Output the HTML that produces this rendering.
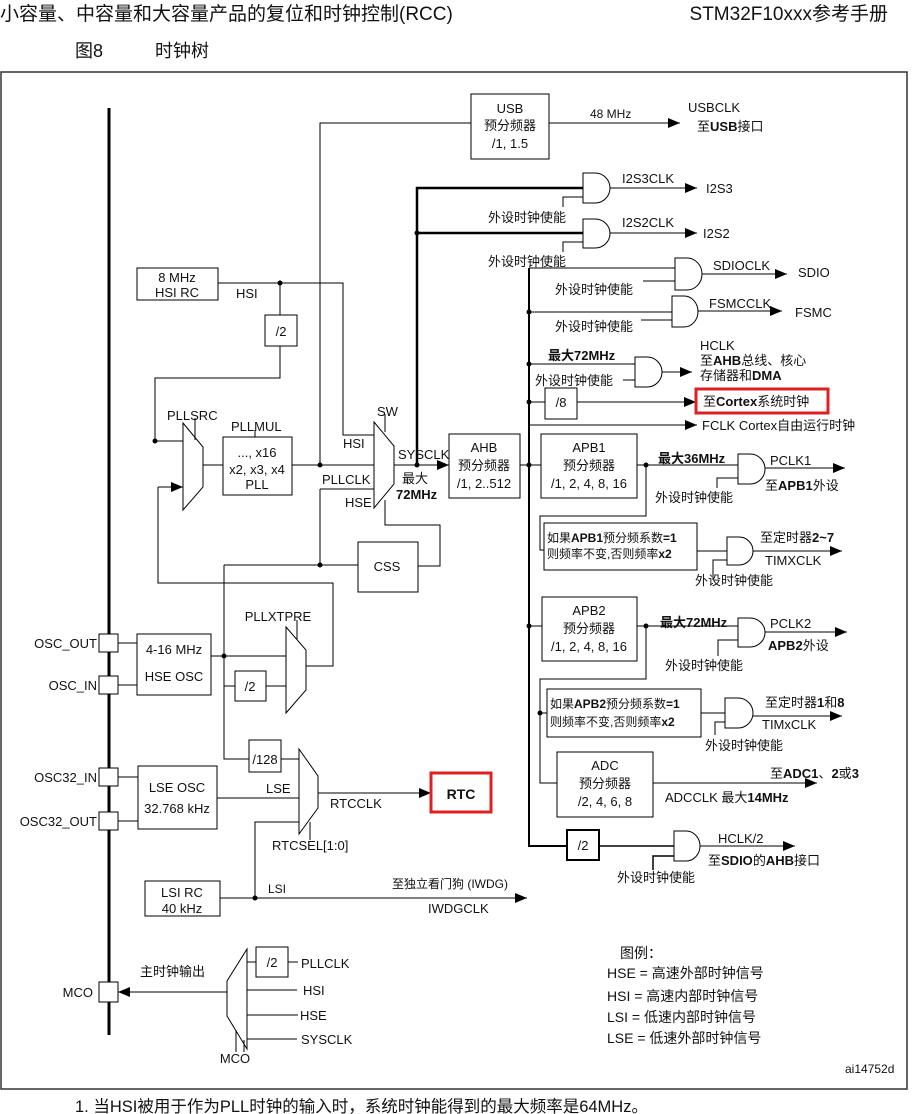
<!DOCTYPE html>
<html><head><meta charset="utf-8">
<style>
html,body{margin:0;padding:0;background:#fff;width:915px;height:1114px;overflow:hidden}
svg{display:block}
text{font-family:"Liberation Sans","Noto Sans CJK SC",sans-serif;font-size:13px;fill:#111}
.c{text-anchor:middle}.e{text-anchor:end}.b{font-weight:bold}
.s{font-size:12px}
.lg{font-size:14px}
</style></head><body>
<svg width="915" height="1114" viewBox="0 0 915 1114" xmlns="http://www.w3.org/2000/svg">
<defs>
<marker id="a" markerUnits="userSpaceOnUse" markerWidth="12" markerHeight="10" refX="12" refY="5" orient="auto"><path d="M0,0 L12,5 L0,10 Z" fill="#000"/></marker>
</defs>
<!-- header -->
<text x="0" y="20" style="font-size:19px">小容量、中容量和大容量产品的复位和时钟控制(RCC)</text>
<text x="888" y="20" class="e" style="font-size:19px">STM32F10xxx参考手册</text>
<text x="75" y="57" style="font-size:18px">图8</text>
<text x="155" y="57" style="font-size:18px">时钟树</text>
<rect x="1" y="72" width="906" height="1017" fill="none" stroke="#333" stroke-width="1.5"/>
<text x="75" y="1112" style="font-size:16.5px">1.  当HSI被用于作为PLL时钟的输入时，系统时钟能得到的最大频率是64MHz。</text>

<g stroke="#000" stroke-width="1" fill="none">
<line x1="109" y1="108" x2="109" y2="1035" stroke-width="3"/>
<path d="M118,643H137 M118,685H137 M118,777H138 M118,821H138"/>
<rect x="137" y="634" width="74" height="61"/>
<path d="M211,656H286 M224,565V759H249 M224,686H235 M266,686H286"/>
<rect x="235" y="671" width="31" height="30"/>
<polygon points="286,627 306,650 306,690 286,713"/>
<path d="M297,620V639"/>
<path d="M306,666H333V583H158V487"/>
<line x1="158" y1="487" x2="183" y2="487" marker-end="url(#a)"/>
<rect x="138" y="766" width="79" height="63"/>
<path d="M217,798H299"/>
<rect x="249" y="740" width="32" height="32"/>
<path d="M281,759H299"/>
<polygon points="299,749 318,776 318,808 299,834"/>
<path d="M310,822V840"/>
<line x1="318" y1="793" x2="431" y2="793" marker-end="url(#a)"/>
<rect x="145" y="881" width="75" height="35"/>
<line x1="220" y1="898" x2="527" y2="898" marker-end="url(#a)"/>
<path d="M255,898V822H299"/>
<polygon points="247,949 227,981 227,1016 247,1049"/>
<line x1="227" y1="992" x2="118" y2="992" marker-end="url(#a)"/>
<rect x="256" y="947" width="32" height="30"/>
<path d="M247,962H256 M288,962H298 M247,990H297 M247,1015H298 M247,1039H297 M236,1030V1052 M244,1040V1052"/>
<rect x="137" y="268" width="81" height="32"/>
<path d="M218,283H343V435H374 M280,283V315 M280,346V378H155V441H183"/>
<rect x="265" y="315" width="32" height="31"/>
<polygon points="183,423 203,447 203,487 183,510"/>
<path d="M195,418V440 M203,465H223"/>
<rect x="223" y="437" width="69" height="58"/>
<path d="M255,430V437"/>
<path d="M292,465H374 M320,465V123H471"/>
<polygon points="374,422 394,446 394,484 374,508"/>
<path d="M385,414V432"/>
<path d="M320,489H374 M320,489V565 M224,565H358"/>
<rect x="358" y="542" width="60" height="50"/>
<path d="M418,566H440V525H385V500"/>
<line x1="394" y1="465" x2="449" y2="465" marker-end="url(#a)"/>
<path d="M417,465V188H583 M417,233H583" stroke-width="2.5"/>
<rect x="471" y="94" width="78" height="65"/>
<line x1="549" y1="123" x2="680" y2="123" marker-end="url(#a)"/>
<rect x="449" y="434" width="71" height="64"/>
<path d="M520,465H541"/>
<path d="M529,268V846H567" stroke-width="2"/>
<path d="M583,173H595A15 15 0 0 1 595,203H583Z M583,219H595A15 14.5 0 0 1 595,248H583Z"/>
<path d="M563,207V197H583 M563,252V242H583"/>
<line x1="610" y1="188" x2="697" y2="188" marker-end="url(#a)"/>
<line x1="610" y1="233" x2="697" y2="233" marker-end="url(#a)"/>
<path d="M529,268H675 M643,281H675"/>
<path d="M675,258H687A15 16 0 0 1 687,290H675Z"/>
<line x1="702" y1="274" x2="787" y2="274" marker-end="url(#a)"/>
<path d="M529,312H672 M641,320H672"/>
<path d="M672,296H684A14 15.5 0 0 1 684,327H672Z"/>
<line x1="698" y1="311" x2="782" y2="311" marker-end="url(#a)"/>
<path d="M529,364H635 M623,380H635"/>
<path d="M635,357H647A15 15 0 0 1 647,387H635Z"/>
<line x1="662" y1="372" x2="692" y2="372" marker-end="url(#a)"/>
<path d="M529,402H545"/>
<rect x="545" y="388" width="32" height="31"/>
<line x1="577" y1="402" x2="696" y2="402" marker-end="url(#a)"/>
<line x1="529" y1="425" x2="697" y2="425" marker-end="url(#a)"/>
<rect x="541" y="434" width="96" height="64"/>
<path d="M637,465H738 M646,465V516H540V550H544 M717,488V478H738"/>
<path d="M738,454H750A15 15 0 0 1 750,484H738Z"/>
<line x1="765" y1="468" x2="845" y2="468" marker-end="url(#a)"/>
<rect x="544" y="523" width="153" height="47"/>
<path d="M697,551H727 M713,580V560H727"/>
<path d="M727,537H739A14 14 0 0 1 739,565H727Z"/>
<line x1="753" y1="551" x2="842" y2="551" marker-end="url(#a)"/>
<rect x="542" y="597" width="95" height="64"/>
<path d="M529,626H542 M637,626H738 M646,626V679H540V783H557 M540,713H547 M718,656V640H738"/>
<path d="M738,618H750A15 14.5 0 0 1 750,647H738Z"/>
<line x1="765" y1="632" x2="847" y2="632" marker-end="url(#a)"/>
<rect x="547" y="689" width="154" height="48"/>
<path d="M701,713H725 M715,735V722H725"/>
<path d="M725,698H738A15 15 0 0 1 738,728H725Z"/>
<line x1="753" y1="716" x2="842" y2="716" marker-end="url(#a)"/>
<rect x="557" y="752" width="96" height="65"/>
<line x1="653" y1="783" x2="817" y2="783" marker-end="url(#a)"/>
<rect x="567" y="830" width="32" height="30" stroke-width="2"/>
<path d="M599,846H674 M653,870V856H674" stroke-width="1.5"/>
<path d="M674,831H686A14 15 0 0 1 686,861H674Z"/>
<line x1="700" y1="846" x2="795" y2="846" marker-end="url(#a)"/>
</g>
<g stroke="#000" fill="#fff">
<rect x="99" y="634" width="19" height="18"/><rect x="99" y="676" width="19" height="18"/>
<rect x="99" y="768" width="19" height="18"/><rect x="99" y="812" width="19" height="18"/>
<rect x="99" y="982" width="19" height="20"/>
</g>
<rect x="431" y="773" width="60" height="39" fill="none" stroke="#e02020" stroke-width="3"/>
<rect x="696" y="389" width="132" height="24" fill="none" stroke="#e02020" stroke-width="3"/>
<g fill="#000">
<circle cx="280" cy="283" r="2.5"/><circle cx="155" cy="441" r="2.5"/><circle cx="320" cy="465" r="2.5"/>
<circle cx="320" cy="565" r="2.5"/><circle cx="224" cy="656" r="2.5"/><circle cx="255" cy="898" r="2.5"/>
<circle cx="417" cy="465" r="2.5"/><circle cx="417" cy="233" r="2.5"/><circle cx="529" cy="312" r="2.5"/>
<circle cx="529" cy="364" r="2.5"/><circle cx="529" cy="402" r="2.5"/><circle cx="529" cy="465" r="2.5"/>
<circle cx="646" cy="465" r="2.5"/><circle cx="529" cy="626" r="2.5"/><circle cx="646" cy="626" r="2.5"/>
<circle cx="540" cy="713" r="2.5"/>
</g>
<text x="97" y="648" class="e">OSC_OUT</text>
<text x="97" y="690" class="e">OSC_IN</text>
<text x="97" y="782" class="e">OSC32_IN</text>
<text x="97" y="826" class="e">OSC32_OUT</text>
<text x="93" y="997" class="e">MCO</text>
<text x="174" y="654" class="c">4-16 MHz</text>
<text x="174" y="681" class="c">HSE OSC</text>
<text x="250" y="691" class="c">/2</text>
<text x="278" y="621" class="c">PLLXTPRE</text>
<text x="177" y="792" class="c">LSE OSC</text>
<text x="177" y="813" class="c">32.768 kHz</text>
<text x="265" y="764" class="c">/128</text>
<text x="266" y="793">LSE</text>
<text x="330" y="808">RTCCLK</text>
<text x="272" y="850">RTCSEL[1:0]</text>
<text x="461" y="799" class="c b" style="font-size:14px">RTC</text>
<text x="182" y="897" class="c">LSI RC</text>
<text x="182" y="913" class="c">40 kHz</text>
<text x="268" y="893" class="s">LSI</text>
<text x="392" y="888" class="s">至独立看门狗  (IWDG)</text>
<text x="428" y="913">IWDGCLK</text>
<text x="140" y="976">主时钟输出</text>
<text x="272" y="967" class="c">/2</text>
<text x="301" y="968">PLLCLK</text>
<text x="303" y="995">HSI</text>
<text x="300" y="1020">HSE</text>
<text x="301" y="1044">SYSCLK</text>
<text x="235" y="1063" class="c">MCO</text>
<text x="177" y="282" class="c">8 MHz</text>
<text x="177" y="297" class="c">HSI RC</text>
<text x="236" y="298">HSI</text>
<text x="281" y="336" class="c">/2</text>
<text x="167" y="420">PLLSRC</text>
<text x="231" y="431">PLLMUL</text>
<text x="257" y="457" class="c">..., x16</text>
<text x="257" y="474" class="c">x2, x3, x4</text>
<text x="257" y="489" class="c">PLL</text>
<text x="377" y="416">SW</text>
<text x="343" y="448">HSI</text>
<text x="322" y="484">PLLCLK</text>
<text x="345" y="507">HSE</text>
<text x="387" y="571" class="c">CSS</text>
<text x="398" y="459">SYSCLK</text>
<text x="402" y="483">最大</text>
<text x="396" y="499" class="b">72MHz</text>
<text x="510" y="113" class="c">USB</text>
<text x="510" y="130" class="c">预分频器</text>
<text x="510" y="148" class="c">/1, 1.5</text>
<text x="590" y="118" class="s">48 MHz</text>
<text x="688" y="112">USBCLK</text>
<text x="697" y="131">至<tspan class="b">USB</tspan>接口</text>
<text x="622" y="183">I2S3CLK</text>
<text x="706" y="193">I2S3</text>
<text x="488" y="222">外设时钟使能</text>
<text x="622" y="227">I2S2CLK</text>
<text x="703" y="238">I2S2</text>
<text x="488" y="266">外设时钟使能</text>
<text x="713" y="270">SDIOCLK</text>
<text x="798" y="277">SDIO</text>
<text x="555" y="294">外设时钟使能</text>
<text x="709" y="308">FSMCCLK</text>
<text x="795" y="317">FSMC</text>
<text x="555" y="331">外设时钟使能</text>
<text x="548" y="360" class="b">最大72MHz</text>
<text x="535" y="385">外设时钟使能</text>
<text x="700" y="350">HCLK</text>
<text x="700" y="365">至<tspan class="b">AHB</tspan>总线、核心</text>
<text x="700" y="380">存储器和<tspan class="b">DMA</tspan></text>
<text x="561" y="407" class="c">/8</text>
<text x="703" y="406">至<tspan class="b">Cortex</tspan>系统时钟</text>
<text x="702" y="430">FCLK Cortex自由运行时钟</text>
<text x="484" y="452" class="c">AHB</text>
<text x="484" y="470" class="c">预分频器</text>
<text x="484" y="488" class="c">/1, 2..512</text>
<text x="589" y="452" class="c">APB1</text>
<text x="589" y="470" class="c">预分频器</text>
<text x="589" y="488" class="c">/1, 2, 4, 8, 16</text>
<text x="658" y="463" class="b">最大36MHz</text>
<text x="770" y="465">PCLK1</text>
<text x="765" y="490">至<tspan class="b">APB1</tspan>外设</text>
<text x="655" y="502">外设时钟使能</text>
<text x="547" y="542" class="s">如果<tspan class="b">APB1</tspan>预分频系数<tspan class="b">=1</tspan></text>
<text x="547" y="558" class="s">则频率不变,否则频率<tspan class="b">x2</tspan></text>
<text x="760" y="542">至定时器<tspan class="b">2~7</tspan></text>
<text x="765" y="565">TIMXCLK</text>
<text x="695" y="585">外设时钟使能</text>
<text x="589" y="615" class="c">APB2</text>
<text x="589" y="633" class="c">预分频器</text>
<text x="589" y="651" class="c">/1, 2, 4, 8, 16</text>
<text x="660" y="627" class="b">最大72MHz</text>
<text x="770" y="628">PCLK2</text>
<text x="768" y="650"><tspan class="b">APB2</tspan>外设</text>
<text x="665" y="670">外设时钟使能</text>
<text x="550" y="708" class="s">如果<tspan class="b">APB2</tspan>预分频系数<tspan class="b">=1</tspan></text>
<text x="550" y="726" class="s">则频率不变,否则频率<tspan class="b">x2</tspan></text>
<text x="765" y="707">至定时器<tspan class="b">1</tspan>和<tspan class="b">8</tspan></text>
<text x="762" y="729">TIMxCLK</text>
<text x="705" y="750">外设时钟使能</text>
<text x="605" y="770" class="c">ADC</text>
<text x="605" y="788" class="c">预分频器</text>
<text x="605" y="806" class="c">/2, 4, 6, 8</text>
<text x="770" y="778">至<tspan class="b">ADC1</tspan>、<tspan class="b">2</tspan>或<tspan class="b">3</tspan></text>
<text x="665" y="802">ADCCLK  最大<tspan class="b">14MHz</tspan></text>
<text x="583" y="850" class="c">/2</text>
<text x="718" y="843">HCLK/2</text>
<text x="708" y="865">至<tspan class="b">SDIO</tspan>的<tspan class="b">AHB</tspan>接口</text>
<text x="617" y="882">外设时钟使能</text>
<text x="620" y="958" class="lg">图例：</text>
<text x="607" y="978" class="lg">HSE = 高速外部时钟信号</text>
<text x="607" y="1001" class="lg">HSI = 高速内部时钟信号</text>
<text x="607" y="1022" class="lg">LSI = 低速内部时钟信号</text>
<text x="607" y="1043" class="lg">LSE = 低速外部时钟信号</text>
<text x="845" y="1073" class="s">ai14752d</text>
</svg>
</body></html>
